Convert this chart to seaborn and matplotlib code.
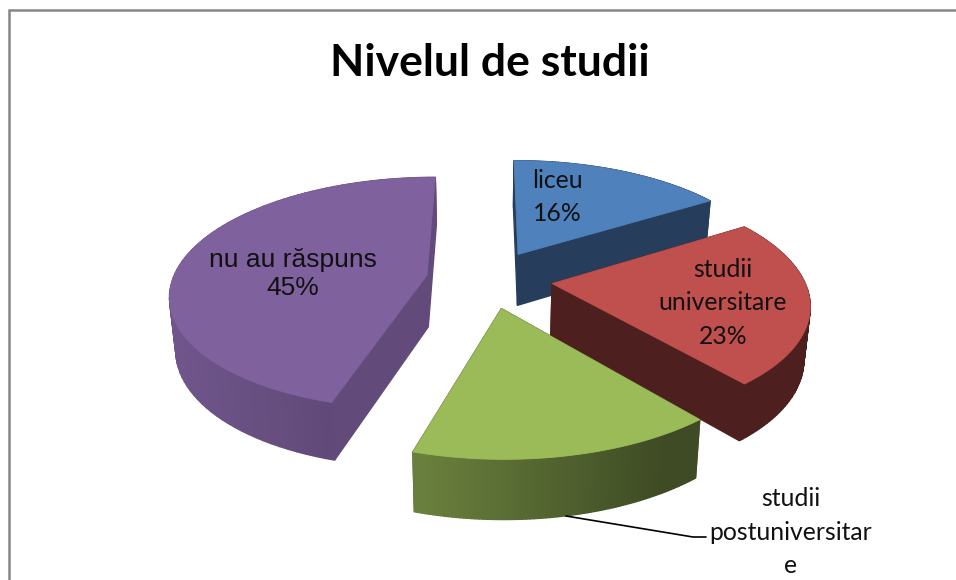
"""Nivelul de studii: exploded 3D-looking pie drawn on a plain seaborn/matplotlib axes."""

import numpy as np
import matplotlib
matplotlib.use("Agg")
import matplotlib.pyplot as plt
import seaborn as sns

# ─── Data ─────────────────────────────────────────────────────────────────────

categories = ["liceu", "studii universitare", "studii postuniversitare", "nu au răspuns"]
values = [16, 23, 15.6, 45.4]
base_colors = ["#4F81BD", "#C0504D", "#9BBB59", "#7F619E"]
explode = [0.25, 0.25, 0.25, 0.24]
radius = [1.0, 0.975, 1.0, 0.985]

# outer wall shade goes from left to right, cut faces have one shade
arc_shade = [(0.45, 0.45), (0.40, 0.40), (0.68, 0.40), (0.88, 0.70)]
cut_shade = [0.48, 0.40, 0.50, 0.77]

# ─── Projection (pixels of the 956x580 picture) ───────────────────────────────

CX, CY = 488, 279
RX, RY = 258, 116
PERSP = 0.16
TAPER = 0.98


def project(x, y):
    """Disc coordinates to screen pixels, far side is squeezed."""
    s = 1 / (1 + PERSP * y)
    return CX + RX * x * s, CY - RY * y * s


def drop(x, y):
    """Same point on the lower face of the slice."""
    px, py = project(x, y)
    s = 1 / (1 + PERSP * y)
    return CX + (px - CX) * TAPER, py + 19 + 33 * s


def shade(color, factor):
    return tuple(c * factor for c in color)


def wall(ax, x0, y0, x1, y1, color):
    a, b = project(x0, y0), project(x1, y1)
    c, d = drop(x1, y1), drop(x0, y0)
    ax.fill(*zip(a, b, c, d), color=color, lw=1.0)


def draw_slice(ax, t0, t1, off, rad, color, arc_sh, cut_sh):
    mid = (t0 + t1) / 2
    ox, oy = off * np.sin(mid), off * np.cos(mid)
    t = np.linspace(t0, t1, 80)
    xs, ys = ox + rad * np.sin(t), oy + rad * np.cos(t)

    # every wall piece, far ones first so the near ones cover them
    pieces = [(oy + rad * np.cos(t0) / 2, ox, oy, xs[0], ys[0], shade(color, cut_sh)),
              (oy + rad * np.cos(t1) / 2, ox, oy, xs[-1], ys[-1], shade(color, cut_sh))]
    x_lo, x_hi = project(xs.min(), 0)[0], project(xs.max(), 0)[0]
    for i in range(len(t) - 1):
        pos = (project(xs[i], ys[i])[0] - x_lo) / max(x_hi - x_lo, 1)
        f = arc_sh[0] + (arc_sh[1] - arc_sh[0]) * np.clip(pos, 0, 1)
        pieces.append(((ys[i] + ys[i + 1]) / 2, xs[i], ys[i], xs[i + 1], ys[i + 1], shade(color, f)))
    for _, x0, y0, x1, y1, c in sorted(pieces, key=lambda p: -p[0]):
        wall(ax, x0, y0, x1, y1, c)

    top = [project(ox, oy)] + [project(a, b) for a, b in zip(xs, ys)]
    ax.fill(*zip(*top), color=color, lw=0.6)


# ─── Figure ───────────────────────────────────────────────────────────────────

sns.set_theme(style="white")
plt.rcParams["font.family"] = ["Lato", "DejaVu Sans"]

fig, ax = plt.subplots(figsize=(9.56, 5.80), dpi=100)
fig.subplots_adjust(0, 0, 1, 1)
ax.set_xlim(0, 956)
ax.set_ylim(580, 0)
ax.axis("off")

colors = sns.color_palette(base_colors)
angles = np.cumsum([0] + values) / sum(values) * 2 * np.pi

# blue and purple sit behind, green in front
for i in [0, 3, 1, 2]:
    draw_slice(ax, angles[i], angles[i + 1], explode[i], radius[i], colors[i], arc_shade[i], cut_shade[i])

# chart area border, only top and left are in the crop
ax.plot([9, 9, 956], [580, 10, 10], color="#868686", lw=1.8, solid_joinstyle="miter")

ax.text(490, 63, "Nivelul de studii", ha="center", va="center",
        fontsize=32, fontweight="bold", color="black")

label_kw = dict(ha="center", va="center", fontsize=17.8, color="#111111", linespacing=1.55)
ax.text(557, 197, f"{categories[0]}\n{round(values[0])}%", **label_kw)
ax.text(723, 303, f"studii\nuniversitare\n{round(values[1])}%", **label_kw)
ax.text(791, 532, "studii\npostuniversitar\ne", **label_kw)
ax.text(293, 274, f"{categories[3]}\n{round(values[3])}%", ha="center", va="center",
        fontsize=19, color="#111111", family="Liberation Sans", linespacing=1.2)

# leader line of the green slice label
ax.plot([566, 693, 706], [516, 537, 537], color="black", lw=1.2)

fig.savefig("out.png", dpi=100)
